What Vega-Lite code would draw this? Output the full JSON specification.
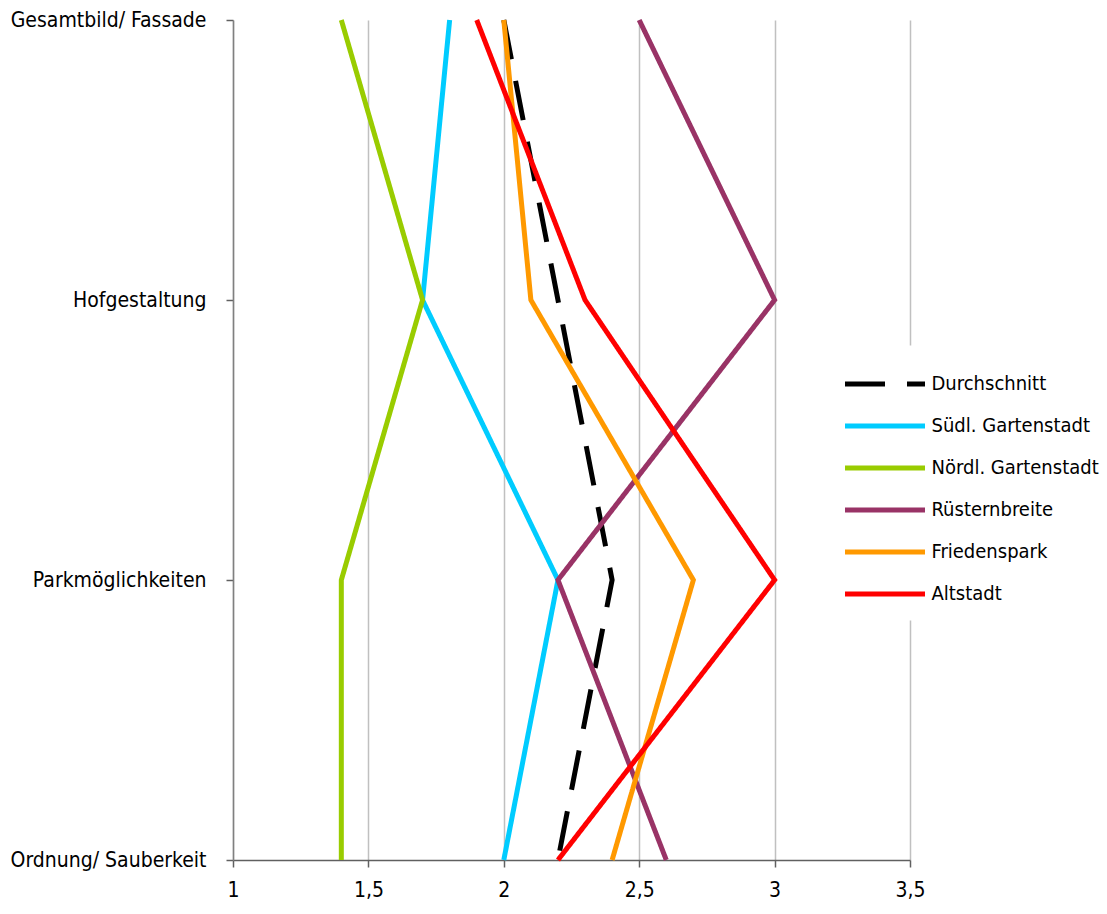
{
  "$schema": "https://vega.github.io/schema/vega-lite/v6.json",
  "autosize": {"type": "none"},
  "width": 677,
  "height": 840,
  "padding": {"left": 233, "top": 20, "right": 197, "bottom": 54},
  "background": "white",
  "config": {
    "view": {"stroke": null},
    "font": "DejaVu Sans Condensed, Liberation Sans",
    "axis": {"labelFont": "DejaVu Sans Condensed, Liberation Sans", "labelFontSize": 21, "labelColor": "#000000", "labelLimit": 400},
    "legend": {"labelFont": "DejaVu Sans Condensed, Liberation Sans", "labelFontSize": 20, "labelColor": "#000000"}
  },
  "data": {
    "values": [
      {"serie": "Durchschnitt", "k": 0, "kategorie": "Gesamtbild/ Fassade", "wert": 2.0},
      {"serie": "Durchschnitt", "k": 1, "kategorie": "Hofgestaltung", "wert": 2.2},
      {"serie": "Durchschnitt", "k": 2, "kategorie": "Parkmöglichkeiten", "wert": 2.4},
      {"serie": "Durchschnitt", "k": 3, "kategorie": "Ordnung/ Sauberkeit", "wert": 2.2},
      {"serie": "Südl. Gartenstadt", "k": 0, "kategorie": "Gesamtbild/ Fassade", "wert": 1.8},
      {"serie": "Südl. Gartenstadt", "k": 1, "kategorie": "Hofgestaltung", "wert": 1.7},
      {"serie": "Südl. Gartenstadt", "k": 2, "kategorie": "Parkmöglichkeiten", "wert": 2.2},
      {"serie": "Südl. Gartenstadt", "k": 3, "kategorie": "Ordnung/ Sauberkeit", "wert": 2.0},
      {"serie": "Nördl. Gartenstadt", "k": 0, "kategorie": "Gesamtbild/ Fassade", "wert": 1.4},
      {"serie": "Nördl. Gartenstadt", "k": 1, "kategorie": "Hofgestaltung", "wert": 1.7},
      {"serie": "Nördl. Gartenstadt", "k": 2, "kategorie": "Parkmöglichkeiten", "wert": 1.4},
      {"serie": "Nördl. Gartenstadt", "k": 3, "kategorie": "Ordnung/ Sauberkeit", "wert": 1.4},
      {"serie": "Rüsternbreite", "k": 0, "kategorie": "Gesamtbild/ Fassade", "wert": 2.5},
      {"serie": "Rüsternbreite", "k": 1, "kategorie": "Hofgestaltung", "wert": 3.0},
      {"serie": "Rüsternbreite", "k": 2, "kategorie": "Parkmöglichkeiten", "wert": 2.2},
      {"serie": "Rüsternbreite", "k": 3, "kategorie": "Ordnung/ Sauberkeit", "wert": 2.6},
      {"serie": "Friedenspark", "k": 0, "kategorie": "Gesamtbild/ Fassade", "wert": 2.0},
      {"serie": "Friedenspark", "k": 1, "kategorie": "Hofgestaltung", "wert": 2.1},
      {"serie": "Friedenspark", "k": 2, "kategorie": "Parkmöglichkeiten", "wert": 2.7},
      {"serie": "Friedenspark", "k": 3, "kategorie": "Ordnung/ Sauberkeit", "wert": 2.4},
      {"serie": "Altstadt", "k": 0, "kategorie": "Gesamtbild/ Fassade", "wert": 1.9},
      {"serie": "Altstadt", "k": 1, "kategorie": "Hofgestaltung", "wert": 2.3},
      {"serie": "Altstadt", "k": 2, "kategorie": "Parkmöglichkeiten", "wert": 3.0},
      {"serie": "Altstadt", "k": 3, "kategorie": "Ordnung/ Sauberkeit", "wert": 2.2}
    ]
  },
  "mark": {"type": "line", "strokeWidth": 5, "strokeCap": "butt", "strokeJoin": "miter"},
  "encoding": {
    "x": {
      "field": "wert",
      "type": "quantitative",
      "scale": {"domain": [1, 3.5], "nice": false, "zero": false},
      "axis": {
        "title": null,
        "values": [1, 1.5, 2, 2.5, 3, 3.5],
        "labelExpr": "replace(toString(datum.value), '.', ',')",
        "grid": true,
        "gridColor": "#c0c0c0",
        "gridWidth": 1.5,
        "domainColor": "#606060",
        "domainWidth": 1.5,
        "tickColor": "#606060",
        "tickWidth": 1.5,
        "tickSize": 7,
        "labelPadding": 12,
        "labelFlush": false
      }
    },
    "y": {
      "field": "kategorie",
      "type": "ordinal",
      "sort": ["Gesamtbild/ Fassade", "Hofgestaltung", "Parkmöglichkeiten", "Ordnung/ Sauberkeit"],
      "scale": {"type": "point", "padding": 0},
      "axis": {
        "title": null,
        "domainColor": "#808080",
        "domainWidth": 1.5,
        "tickColor": "#606060",
        "tickWidth": 1.5,
        "tickSize": 7,
        "labelPadding": 20,
        "grid": false
      }
    },
    "order": {"field": "k", "type": "quantitative"},
    "color": {
      "field": "serie",
      "type": "nominal",
      "scale": {
        "domain": ["Durchschnitt", "Südl. Gartenstadt", "Nördl. Gartenstadt", "Rüsternbreite", "Friedenspark", "Altstadt"],
        "range": ["#000000", "#00ccff", "#99cc00", "#993366", "#ff9900", "#ff0000"]
      },
      "legend": {
        "title": null,
        "orient": "none",
        "legendX": 613.5,
        "legendY": 325.5,
        "fillColor": "white",
        "padding": 16,
        "symbolType": "M-2,0H2",
        "symbolSize": 1600,
        "symbolStrokeWidth": 5,
        "symbolStrokeCap": "round",
        "labelOffset": 24,
        "rowPadding": 9,
        "labelLimit": 300
      }
    },
    "strokeDash": {
      "field": "serie",
      "type": "nominal",
      "scale": {
        "domain": ["Durchschnitt", "Südl. Gartenstadt", "Nördl. Gartenstadt", "Rüsternbreite", "Friedenspark", "Altstadt"],
        "range": [[40, 22], [1, 0], [1, 0], [1, 0], [1, 0], [1, 0]]
      },
      "legend": null
    }
  }
}
